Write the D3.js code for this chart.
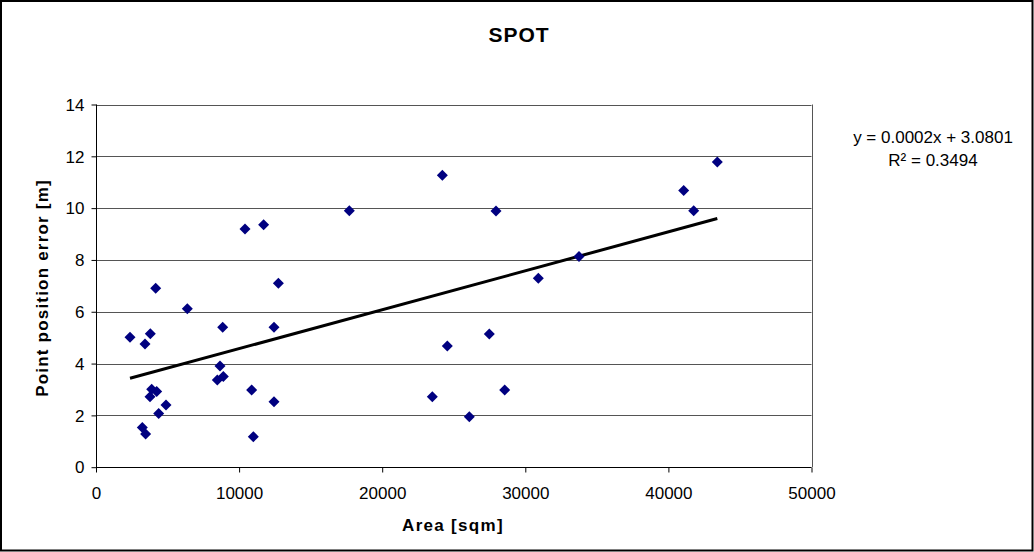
<!DOCTYPE html>
<html>
<head>
<meta charset="utf-8">
<script src="https://cdn.jsdelivr.net/npm/d3@7"></script>
<style>
  html, body { margin: 0; padding: 0; background: #fff; }
  svg { display: block; font-family: Arial, "Liberation Sans", sans-serif; }
</style>
</head>
<body>
<svg id="chart" width="1034" height="552"></svg>
<script>
const title = "SPOT";
const xLabel = "Area [sqm]";
const yLabel = "Point position error [m]";
const xTicks = [0, 10000, 20000, 30000, 40000, 50000];
const yTicks = [0, 2, 4, 6, 8, 10, 12, 14];
const areaValues = [2376, 3424, 3795, 4172, 6380, 8853, 8665, 8478, 8898, 3892, 4240, 3774, 4892, 4380, 3238, 3470,
  10877, 10994, 12437, 12437, 12743, 10412, 11716, 17703, 24203, 27953, 30910, 33753, 24552, 27485, 23502, 26088,
  28560, 41069, 41768, 43418];
const errorValues = [5.02, 4.76, 5.15, 6.91, 6.12, 5.40, 3.91, 3.37, 3.50, 3.01, 2.92, 2.72, 2.40, 2.07, 1.53, 1.28,
  2.98, 1.18, 2.53, 5.40, 7.10, 9.19, 9.36, 9.90, 11.27, 9.89, 7.29, 8.13, 4.68, 5.14, 2.72, 1.95,
  2.98, 10.68, 9.90, 11.78];
const equationLines = ["y = 0.0002x + 3.0801", "R² = 0.3494"];

const svg = d3.select("#chart");
const W = 1034, H = 552;
const plot = { left: 96, right: 811.5, top: 104.5, bottom: 467.2 };

svg.append("rect").attr("x", 1).attr("y", 1).attr("width", W - 2.5).attr("height", H - 2.5)
  .attr("fill", "#fff").attr("stroke", "#000").attr("stroke-width", 2);

const x = d3.scaleLinear().domain([0, 50000]).range([plot.left, plot.right]);
const y = d3.scaleLinear().domain([0, 14]).range([plot.bottom, plot.top]);

// gridlines
svg.append("g").selectAll("line").data(yTicks.filter(d => d > 0)).join("line")
  .attr("x1", plot.left).attr("x2", plot.right)
  .attr("y1", d => Math.round(y(d)) + 0.5).attr("y2", d => Math.round(y(d)) + 0.5)
  .attr("stroke", "#555").attr("stroke-width", 1);
// right border of plot
svg.append("line").attr("x1", Math.round(plot.right) + 0.5).attr("x2", Math.round(plot.right) + 0.5)
  .attr("y1", y(14)).attr("y2", plot.bottom).attr("stroke", "#555");

// axes
const xAxis = d3.axisBottom(x).tickValues(xTicks).tickSize(5).tickFormat(d3.format("d"));
const yAxis = d3.axisLeft(y).tickValues(yTicks).tickSize(5).tickFormat(d3.format("d"));

const gx = svg.append("g").attr("transform", `translate(0,${Math.round(plot.bottom) + 0.5})`).call(xAxis);
gx.select(".domain").attr("d", `M${plot.left},0H${plot.right}`).attr("stroke", "#000");
gx.selectAll(".tick line").attr("stroke", "#000");
gx.selectAll(".tick text").attr("font-size", 17).attr("font-family", "Arial, 'Liberation Sans', sans-serif")
  .attr("fill", "#000").attr("y", 19).attr("dy", "0.71em");

const gy = svg.append("g").attr("transform", `translate(${Math.round(plot.left) + 0.5},0)`).call(yAxis);
gy.select(".domain").attr("d", `M0,${plot.top}V${plot.bottom}`).attr("stroke", "#000");
gy.selectAll(".tick line").attr("stroke", "#000");
gy.selectAll(".tick text").attr("font-size", 17).attr("font-family", "Arial, 'Liberation Sans', sans-serif")
  .attr("fill", "#000").attr("x", -12).attr("dy", "0.34em");

// trendline from least squares
const n = areaValues.length;
const mx = d3.mean(areaValues), my = d3.mean(errorValues);
let sxy = 0, sxx = 0;
for (let i = 0; i < n; i++) { sxy += (areaValues[i] - mx) * (errorValues[i] - my); sxx += (areaValues[i] - mx) ** 2; }
const slope = sxy / sxx, intercept = my - slope * mx;
const x0 = d3.min(areaValues), x1 = d3.max(areaValues);
svg.append("line")
  .attr("x1", x(x0)).attr("y1", y(intercept + slope * x0))
  .attr("x2", x(x1)).attr("y2", y(intercept + slope * x1))
  .attr("stroke", "#000").attr("stroke-width", 3);

// markers
const r = 5.5;
svg.append("g").selectAll("path").data(areaValues.map((a, i) => [a, errorValues[i]])).join("path")
  .attr("transform", d => `translate(${x(d[0])},${y(d[1])})`)
  .attr("d", `M0,${-r}L${r},0L0,${r}L${-r},0Z`)
  .attr("fill", "#000080");

// title
svg.append("text").attr("x", 519).attr("y", 42).attr("text-anchor", "middle")
  .attr("font-size", 21).attr("font-weight", "bold").attr("letter-spacing", 1).text(title);

// axis labels
svg.append("text").attr("x", 453).attr("y", 531).attr("text-anchor", "middle")
  .attr("font-size", 17).attr("font-weight", "bold").attr("letter-spacing", 1.3).text(xLabel);
svg.append("text").attr("transform", `translate(48,288) rotate(-90)`)
  .attr("text-anchor", "middle").attr("font-size", 17).attr("font-weight", "bold").attr("letter-spacing", 1.2)
  .text(yLabel);

// equation
const eq = svg.append("text").attr("text-anchor", "middle").attr("font-size", 17);
eq.append("tspan").attr("x", 933).attr("y", 143).text(equationLines[0]);
eq.append("tspan").attr("x", 933).attr("y", 166).text(equationLines[1]);
</script>
</body>
</html>
